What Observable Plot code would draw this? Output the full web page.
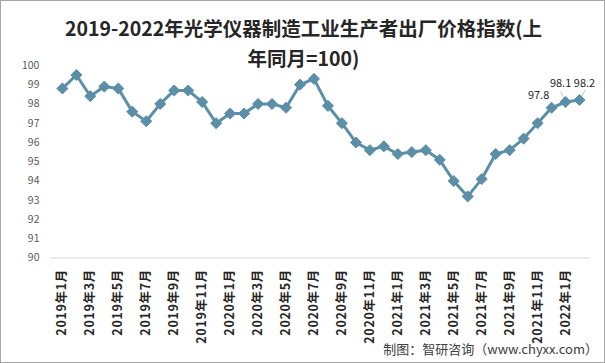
<!DOCTYPE html>
<html>
<head>
<meta charset="utf-8">
<script src="https://cdn.jsdelivr.net/npm/d3@7"></script>
<script src="https://cdn.jsdelivr.net/npm/@observablehq/plot@0.6"></script>
<style>
  html, body { margin: 0; padding: 0; background: #fff; }
  #wrap { position: relative; width: 605px; height: 363px; box-sizing: border-box; border: 1px solid #a6a6a6; overflow: hidden; font-family: "Noto Sans CJK SC", "Noto Sans", sans-serif; }
  #title { position: absolute; left: 0; top: 12px; width: 605px; text-align: center; font-size: 19.5px; font-weight: bold; line-height: 30px; color: #262626; }
  #caption { position: absolute; right: 6px; top: 338px; font-size: 13px; color: #404040; }
  #chart { position: absolute; left: -1px; top: -1px; }
  #chart svg { background: transparent; }
  #chart g[aria-label="x-axis tick label"] text { letter-spacing: 0.7px; }
</style>
</head>
<body>
<div id="wrap">
  <div id="chart"></div>
  <div id="title">2019-2022年光学仪器制造工业生产者出厂价格指数(上<br>年同月=100)</div>
  <div id="caption">制图：智研咨询（www.chyxx.com）</div>
</div>
<script>
const months = [
  "2019年1月","2019年2月","2019年3月","2019年4月","2019年5月","2019年6月",
  "2019年7月","2019年8月","2019年9月","2019年10月","2019年11月","2019年12月",
  "2020年1月","2020年2月","2020年3月","2020年4月","2020年5月","2020年6月",
  "2020年7月","2020年8月","2020年9月","2020年10月","2020年11月","2020年12月",
  "2021年1月","2021年2月","2021年3月","2021年4月","2021年5月","2021年6月",
  "2021年7月","2021年8月","2021年9月","2021年10月","2021年11月","2021年12月",
  "2022年1月","2022年2月"
];
const priceIndex = [
  98.8, 99.5, 98.4, 98.9, 98.8, 97.6, 97.1, 98.0, 98.7, 98.7, 98.1, 97.0,
  97.5, 97.5, 98.0, 98.0, 97.8, 99.0, 99.3, 97.9, 97.0, 96.0, 95.6, 95.8,
  95.4, 95.5, 95.6, 95.1, 94.0, 93.2, 94.1, 95.4, 95.6, 96.2, 97.0, 97.8,
  98.1, 98.2
];
const xTickLabels = [
  "2019年1月","2019年3月","2019年5月","2019年7月","2019年9月","2019年11月",
  "2020年1月","2020年3月","2020年5月","2020年7月","2020年9月","2020年11月",
  "2021年1月","2021年3月","2021年5月","2021年7月","2021年9月","2021年11月",
  "2022年1月"
];
const yTickValues = [90, 91, 92, 93, 94, 95, 96, 97, 98, 99, 100];
const labeledMonths = ["2021年12月", "2022年1月", "2022年2月"];
const labeledValues = [97.8, 98.1, 98.2];

const data = months.map((m, i) => ({month: m, value: priceIndex[i]}));
const labels = labeledMonths.map((m, i) => ({month: m, value: labeledValues[i]}));

const color = "#5b8fa7";
const leader = {draw(context, length) { context.moveTo(0, 0); context.lineTo(0, -length); }};

const chart = Plot.plot({
  width: 605,
  height: 363,
  marginLeft: 50,
  marginRight: 14,
  marginTop: 65,
  marginBottom: 105,
  style: {fontFamily: "'Noto Sans CJK SC', 'Noto Sans', sans-serif", background: "transparent"},
  x: {type: "point", domain: months, padding: 0.5},
  y: {domain: [90, 100]},
  marks: [
    Plot.ruleY([90], {stroke: "#d9d9d9", strokeWidth: 1}),
    Plot.axisY({ticks: yTickValues, tickSize: 0, tickPadding: 11, fontSize: 10.5, fill: "#595959", tickFormat: d => String(d), label: null}),
    Plot.axisX({ticks: xTickLabels, tickRotate: -90, tickSize: 0, tickPadding: 11, fontSize: 12.5, fontWeight: "bold", fill: "#262626", label: null}),
    Plot.line(data, {x: "month", y: "value", stroke: color, strokeWidth: 3}),
    Plot.vector([labels[1]], {x: "month", y: "value", anchor: "start", length: 11, rotate: -25, shape: leader, stroke: "#c8c8c8", strokeWidth: 1}),
    Plot.vector([labels[2]], {x: "month", y: "value", anchor: "start", length: 11, rotate: 30, shape: leader, stroke: "#c8c8c8", strokeWidth: 1}),
    Plot.dot(data, {x: "month", y: "value", symbol: "diamond2", r: 5, fill: color, stroke: color, strokeWidth: 1}),
    Plot.text([labels[0]], {x: "month", y: "value", text: d => d.value.toFixed(1), dx: -13, dy: -12, fontSize: 11, fill: "#262626"}),
    Plot.text([labels[1]], {x: "month", y: "value", text: d => d.value.toFixed(1), dx: -5, dy: -19, fontSize: 11, fill: "#262626"}),
    Plot.text([labels[2]], {x: "month", y: "value", text: d => d.value.toFixed(1), dx: 5, dy: -17, fontSize: 11, fill: "#262626"})
  ]
});
document.getElementById("chart").appendChild(chart);
</script>
</body>
</html>
